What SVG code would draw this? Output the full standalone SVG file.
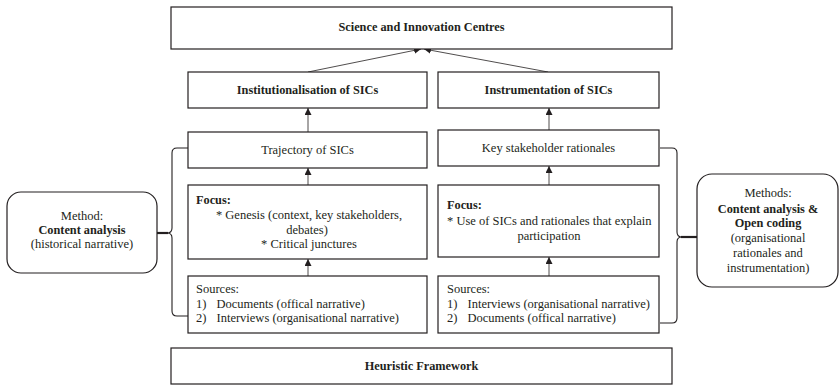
<svg xmlns="http://www.w3.org/2000/svg" width="840" height="385" viewBox="0 0 840 385">
<style>
text{font-family:'Liberation Serif','Times New Roman',serif;font-size:12.5px;fill:#231f20}
.b{font-weight:bold;font-size:12.3px}
.m{text-anchor:middle}
.box{fill:#fff;stroke:#231f20;stroke-width:1.2}
.rbox{fill:#fff;stroke:#231f20;stroke-width:1.2}
.arr{fill:none;stroke:#231f20;stroke-width:0.8;marker-end:url(#ah)}
.brace{fill:none;stroke:#231f20;stroke-width:1.1}
.thick{fill:none;stroke:#231f20;stroke-width:2.2}
</style>
<defs>
<marker id="ah" viewBox="0 0 10 10" refX="10" refY="5" markerWidth="7" markerHeight="7" markerUnits="userSpaceOnUse" orient="auto">
<path d="M0,0 L10,5 L0,10 z" fill="#231f20"/>
</marker>
</defs>
<rect width="840" height="385" fill="#fff"/>

<g id="connectors">
<path class="arr" d="M308,72 L421,49"/>
<path class="arr" d="M548,72 L424,49"/>
<path class="arr" d="M308,132 V108"/>
<path class="arr" d="M308,185 V168"/>
<path class="arr" d="M308,276 V259"/>
<path class="arr" d="M549,130 V108"/>
<path class="arr" d="M549,185 V166"/>
<path class="arr" d="M549,276 V257"/>
<path class="brace" d="M188,148 H177 Q172,148 172,153 V228 Q172,233 167,233 Q172,233 172,238 V311 Q172,316 177,316 H188"/>
<path class="thick" d="M157,233 H168"/>
<path class="brace" d="M660,148 H672 Q677,148 677,153 V232 Q677,237 682,237 Q677,237 677,242 V318 Q677,323 672,323 H660"/>
<path class="thick" d="M681,237 H697"/>
</g>

<g id="sic">
<rect class="box" x="171" y="7" width="501" height="42"/>
<text class="b m" x="421.5" y="31">Science and Innovation Centres</text>
</g>

<g id="institutionalisation">
<rect class="box" x="188" y="72" width="239" height="36"/>
<text class="b m" x="307.5" y="94">Institutionalisation of SICs</text>
</g>

<g id="instrumentation">
<rect class="box" x="438" y="72" width="221" height="36"/>
<text class="b m" x="548.5" y="94">Instrumentation of SICs</text>
</g>

<g id="trajectory">
<rect class="box" x="188" y="132" width="239" height="36"/>
<text class="m" x="307.5" y="154">Trajectory of SICs</text>
</g>

<g id="rationales">
<rect class="box" x="438" y="130" width="221" height="36"/>
<text class="m" x="548.5" y="152">Key stakeholder rationales</text>
</g>

<g id="focus-left">
<rect class="box" x="188" y="185" width="239" height="74"/>
<text class="b" x="196" y="203.5">Focus:</text>
<text class="m" x="309" y="219">* Genesis (context, key stakeholders,</text>
<text class="m" x="307" y="233.5">debates)</text>
<text class="m" x="309" y="247.5">* Critical junctures</text>
</g>

<g id="focus-right">
<rect class="box" x="438" y="185" width="221" height="72"/>
<text class="b" x="447" y="209">Focus:</text>
<text x="447" y="224.5">* Use of SICs and rationales that explain</text>
<text class="m" x="549" y="239.5">participation</text>
</g>

<g id="sources-left">
<rect class="box" x="188" y="276" width="239" height="57"/>
<text x="196" y="293">Sources:</text>
<text x="196" y="308">1)</text>
<text x="216.5" y="308">Documents (offical narrative)</text>
<text x="196" y="322">2)</text>
<text x="216.5" y="322">Interviews (organisational narrative)</text>
</g>

<g id="sources-right">
<rect class="box" x="438" y="276" width="221" height="57"/>
<text x="447" y="293">Sources:</text>
<text x="447" y="308">1)</text>
<text x="467.5" y="308">Interviews (organisational narrative)</text>
<text x="447" y="322">2)</text>
<text x="467.5" y="322">Documents (offical narrative)</text>
</g>

<g id="heuristic">
<rect class="box" x="171" y="348" width="501" height="36"/>
<text class="b m" x="421.5" y="370">Heuristic Framework</text>
</g>

<g id="method-left">
<rect class="rbox" x="7" y="192" width="150" height="81" rx="14" ry="14"/>
<text class="m" x="82" y="220">Method:</text>
<text class="b m" x="82" y="234">Content analysis</text>
<text class="m" x="82" y="248">(historical narrative)</text>
</g>

<g id="method-right">
<rect class="rbox" x="697" y="174" width="141" height="113" rx="15" ry="15"/>
<text class="m" x="768" y="197">Methods:</text>
<text class="b m" x="768" y="212.5">Content analysis &amp;</text>
<text class="b m" x="768" y="226.5">Open coding</text>
<text class="m" x="768" y="241.5">(organisational</text>
<text class="m" x="768" y="257">rationales and</text>
<text class="m" x="768" y="272">instrumentation)</text>
</g>
</svg>
